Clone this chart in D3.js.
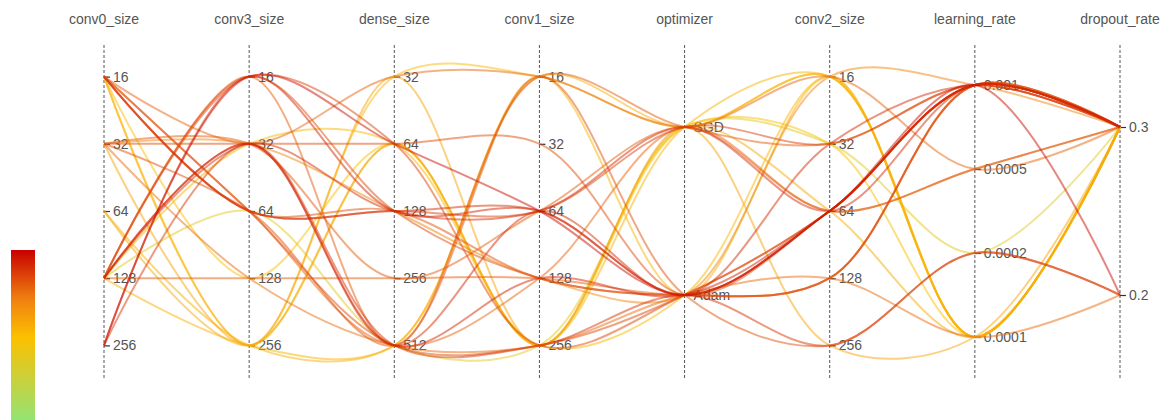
<!DOCTYPE html>
<html>
<head>
<meta charset="utf-8">
<script src="https://cdn.jsdelivr.net/npm/d3@7"></script>
<style>
  body { margin: 0; background: #fff; }
  svg { display: block; font-family: "Liberation Sans", Arial, sans-serif; }
</style>
</head>
<body>
<svg id="chart" width="1172" height="420"></svg>
<script>
// Hyperparameter axes, left to right
const dimensions = ["conv0_size", "conv3_size", "dense_size", "conv1_size",
                    "optimizer", "conv2_size", "learning_rate", "dropout_rate"];

// Tick labels of each axis, top to bottom
const conv0Ticks   = ["16", "32", "64", "128", "256"];
const conv3Ticks   = ["16", "32", "64", "128", "256"];
const denseTicks   = ["32", "64", "128", "256", "512"];
const conv1Ticks   = ["16", "32", "64", "128", "256"];
const optimizerTicks = ["SGD", "Adam"];
const conv2Ticks   = ["16", "32", "64", "128", "256"];
const lrTicks      = ["0.001", "0.0005", "0.0002", "0.0001"];
const dropoutTicks = ["0.3", "0.2"];

// One entry per trial
const conv0Size  = ["256","256","128","128","16","16","16","16","16","16","16","16","32","32","32","32","32","64","64","128","128","128","128","128","128","128","256","32","16","128"];
const conv3Size  = ["16","16","16","16","64","64","64","64","64","256","256","128","32","32","64","256","128","256","256","32","32","32","32","16","64","128","32","32","32","256"];
const denseSize  = ["64","128","64","512","128","128","512","128","512","64","32","64","64","128","512","32","512","512","64","64","128","512","512","128","512","256","512","256","32","512"];
const conv1Size  = ["64","64","256","16","64","64","256","128","128","256","16","256","32","128","16","256","256","16","256","256","64","128","64","128","256","128","256","64","16","16"];
const optimizer  = ["Adam","Adam","Adam","SGD","Adam","SGD","Adam","Adam","SGD","SGD","SGD","SGD","Adam","Adam","Adam","SGD","Adam","SGD","SGD","Adam","SGD","Adam","Adam","Adam","SGD","Adam","Adam","SGD","SGD","Adam"];
const conv2Size  = ["64","64","64","32","64","32","64","128","64","16","16","32","64","16","256","256","128","16","64","16","64","64","32","128","32","128","256","64","16","16"];
const learningRate = ["0.001","0.001","0.001","0.001","0.001","0.001","0.001","0.001","0.0005","0.0001","0.0001","0.0001","0.001","0.001","0.0002","0.0001","0.0001","0.0001","0.0001","0.0001","0.001","0.001","0.001","0.001","0.0002","0.001","0.0002","0.0005","0.0005","0.0001"];
const dropoutRate  = ["0.2","0.3","0.3","0.3","0.3","0.3","0.3","0.3","0.3","0.3","0.3","0.3","0.3","0.3","0.2","0.3","0.2","0.3","0.3","0.3","0.3","0.3","0.3","0.3","0.3","0.3","0.2","0.3","0.3","0.3"];
// Objective score of each trial (drives the line colour)
const score = [0.97,0.92,0.85,0.80,0.90,0.86,0.84,0.82,0.78,0.55,0.52,0.50,0.83,0.70,0.82,0.60,0.76,0.56,0.58,0.53,0.90,0.92,0.90,0.84,0.38,0.80,0.88,0.80,0.78,0.54];

const columns = [conv0Size, conv3Size, denseSize, conv1Size, optimizer, conv2Size, learningRate, dropoutRate];
const tickSets = [conv0Ticks, conv3Ticks, denseTicks, conv1Ticks, optimizerTicks, conv2Ticks, lrTicks, dropoutTicks];

const svg = d3.select("#chart");
const yTop = 43, yBottom = 379;

const x = d3.scalePoint().domain(dimensions).range([104, 1120]);
const yScales = tickSets.map(t => d3.scalePoint().domain(t).range([yTop, yBottom]).padding(0.5));

// Score colour ramp: low = green, high = red
const colorStops = [
  [0.00, "#8ee67a"],
  [0.25, "#c6d23e"],
  [0.50, "#fcc000"],
  [0.72, "#f08010"],
  [1.00, "#c80000"]
];
const color = d3.scaleLinear()
  .domain(colorStops.map(s => s[0]))
  .range(colorStops.map(s => s[1]))
  .interpolate(d3.interpolateRgb);

// Colour bar
const defs = svg.append("defs");
const grad = defs.append("linearGradient").attr("id", "scoreRamp")
  .attr("x1", 0).attr("y1", 1).attr("x2", 0).attr("y2", 0);
colorStops.forEach(s => grad.append("stop").attr("offset", s[0]).attr("stop-color", s[1]));
svg.append("rect").attr("x", 11).attr("y", 250).attr("width", 24).attr("height", 175)
  .attr("fill", "url(#scoreRamp)");

// Axes
dimensions.forEach((dim, i) => {
  const g = svg.append("g").attr("transform", `translate(${x(dim)},0)`);
  g.append("line")
    .attr("y1", yTop + 2).attr("y2", yBottom + 1)
    .attr("stroke", "#555").attr("stroke-width", 1)
    .attr("stroke-dasharray", "3,2");
  const axis = d3.axisRight(yScales[i]).tickSize(6).tickPadding(3);
  g.call(axis);
  g.select(".domain").remove();
  g.selectAll(".tick line").attr("stroke", "#333").attr("stroke-width", 1.2);
  g.selectAll(".tick text")
    .attr("fill", "#555").attr("font-size", 14)
    .attr("font-family", "'Liberation Sans', Arial, sans-serif");
  g.append("text")
    .attr("y", 24).attr("text-anchor", "middle")
    .attr("fill", "#555").attr("font-size", 14)
    .text(dim);
});

// Trial lines
const line = d3.line().curve(d3.curveCatmullRom.alpha(0.5));
const order = d3.range(score.length).sort((a, b) => score[a] - score[b]);
svg.append("g").attr("fill", "none")
  .selectAll("path").data(order).join("path")
  .attr("d", k => line(dimensions.map((dim, i) => [x(dim), yScales[i](columns[i][k])])))
  .attr("stroke", k => color(score[k]))
  .attr("stroke-width", 2)
  .attr("stroke-opacity", 0.5);
</script>
</body>
</html>
